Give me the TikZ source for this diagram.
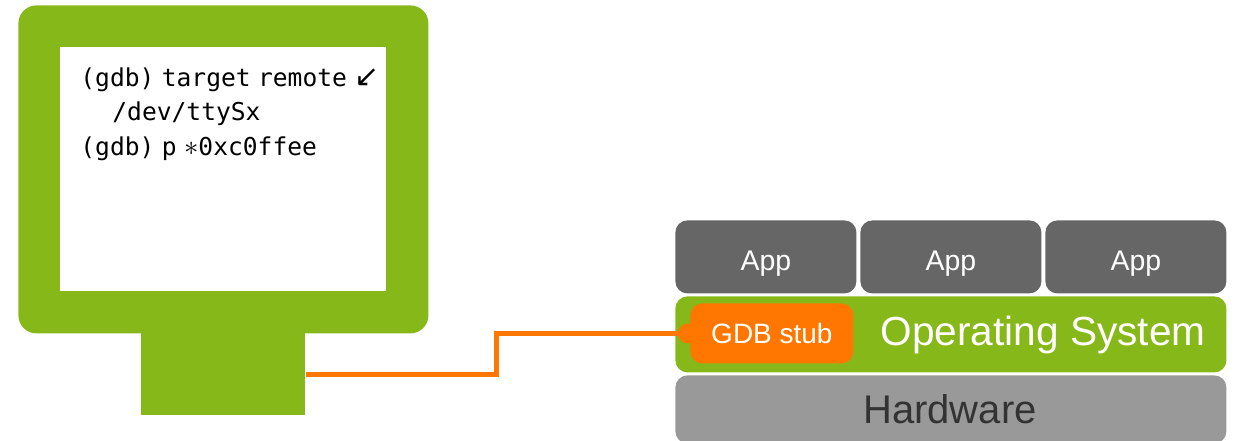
\documentclass[tikz,border=0pt]{standalone}
\usepackage{fontspec}
\setmainfont{Liberation Sans}
\newfontfamily\codefont[WordSpace=0.5]{DejaVu Sans Mono}
\newfontfamily\symbolfont{DejaVu Sans}
\usetikzlibrary{positioning}

\definecolor{gdbgreen}{HTML}{87B81A}
\definecolor{gdborange}{HTML}{FF7700}
\definecolor{appgrey}{HTML}{666666}
\definecolor{hwgrey}{HTML}{999999}
\definecolor{hwtext}{HTML}{333333}

\begin{document}
\begin{tikzpicture}[
    x=0.5pt, y=-0.5pt,
    box/.style={rectangle, inner sep=0pt, anchor=north west},
    layer/.style={box, rounded corners=6pt, minimum width=275.5pt},
    app/.style={box, fill=appgrey, rounded corners=6pt,
      minimum width=90.5pt, minimum height=36.5pt,
      text height=13.3pt, text depth=0pt,
      text=white, font=\fontsize{14.2}{17}\selectfont},
    stub/.style={box, fill=gdborange, rounded corners=6pt,
      minimum width=81.5pt, minimum height=30pt, text depth=0pt,
      text=white, font=\fontsize{14}{17}\selectfont},
    serial/.style={draw=gdborange, line width=2.5pt}
  ]
  \useasboundingbox (0,0) rectangle (1238,440);

  % host side: monitor with a gdb session
  \node[box, fill=gdbgreen, rounded corners=9pt, minimum width=205pt, minimum height=164pt] (monitor) at (18,5) {};
  \node[box, fill=white, minimum width=163pt, minimum height=122pt] (screen) at (60,47) {};
  \node[box, fill=gdbgreen, minimum width=82pt, minimum height=41pt] (stand) at (141,333) {};
  \node[box, align=left, font=\codefont\fontsize{12.3}{17.3}\selectfont] (session) at (80,67)
    {(gdb) target remote {\symbolfont\fontsize{15}{15}\selectfont ↙}\\
     \hspace*{16pt}/dev/ttySx\\
     (gdb) p {\fontsize{15}{15}\selectfont$\ast$}0xc0ffee};

  % target side: software stack
  \foreach \i in {0,1,2}
    \node[app] (app\i) at (675+185*\i,220) {App};
  \node[layer, fill=gdbgreen, minimum height=38pt] (os) at (675,296) {};
  \node[layer, fill=hwgrey, minimum height=34pt] (hw) at (675,375) {};
  \node[anchor=base, text=white, font=\fontsize{20.3}{24}\selectfont] (oslabel) at (1043,345) {Operating System};
  \node[anchor=base, text=hwtext, font=\fontsize{20}{24}\selectfont] (hwlabel) at (950,423) {Hardware};
  \node[stub] (stub) at (690,303) {GDB stub};
  \fill[gdborange] ([xshift=-1pt]stub.west) circle (5pt);

  % serial line
  \draw[serial] (stand.east) -- ++(191,0) |- (stub.west);
\end{tikzpicture}
\end{document}
